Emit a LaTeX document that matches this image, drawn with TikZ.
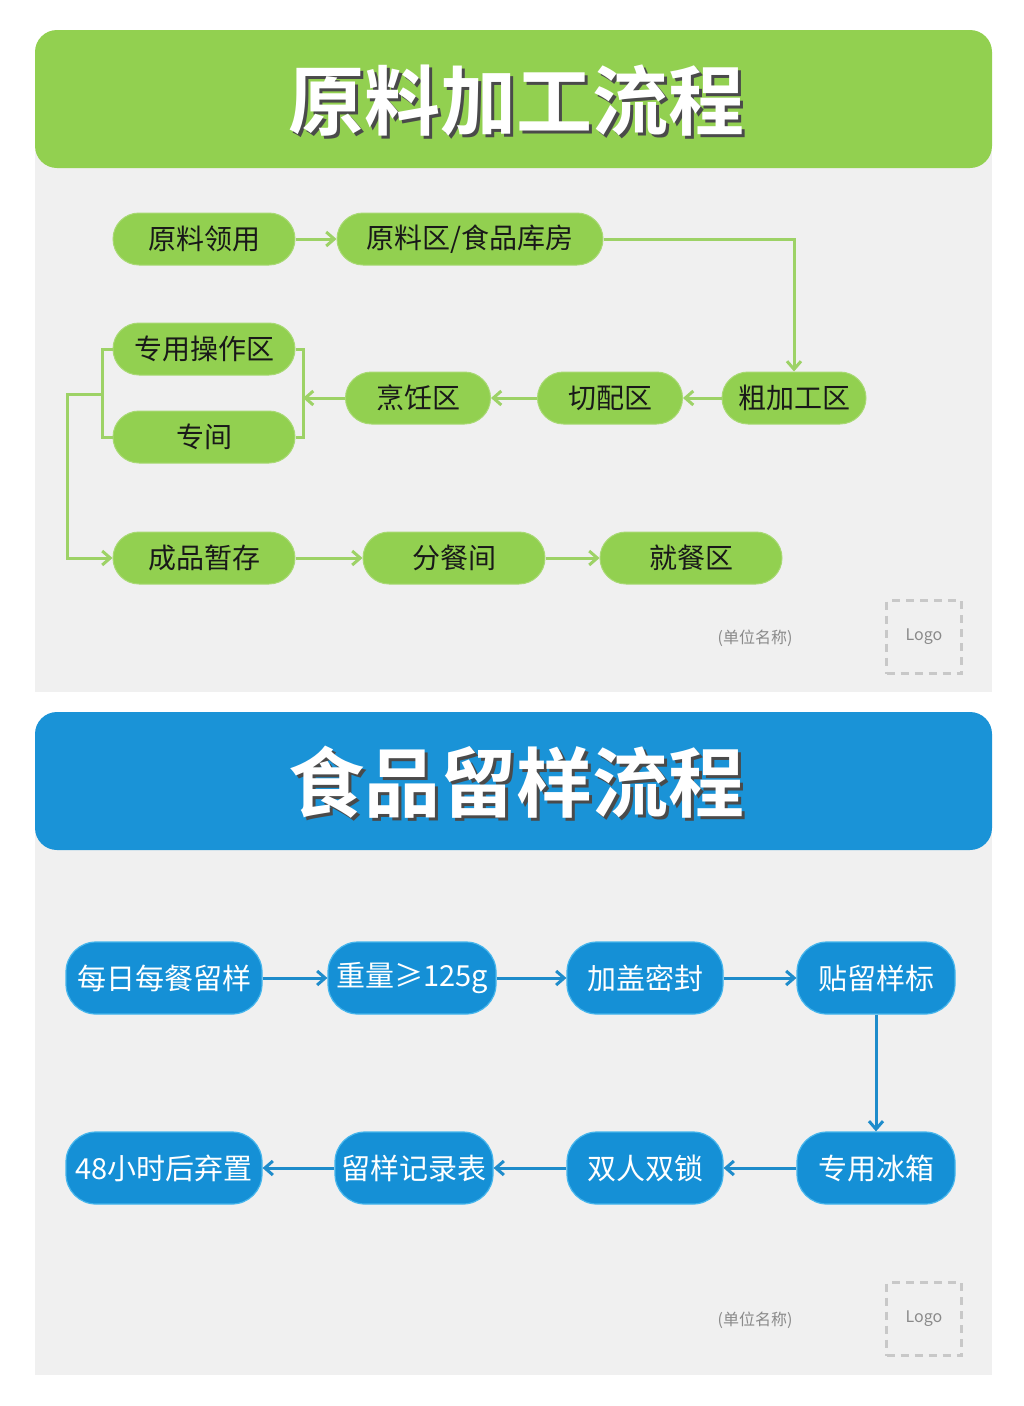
\documentclass[tikz,border=0pt]{standalone}
\usepackage{fontspec}
\setmainfont{Noto Sans CJK SC}
\newfontfamily\cjkb{Noto Sans CJK SC Bold}
\usetikzlibrary{arrows.meta}
\definecolor{panelgray}{HTML}{F0F0F0}
\definecolor{hgreen}{HTML}{92D050}
\definecolor{ngreen}{HTML}{92D050}
\definecolor{lgreen}{HTML}{9DD266}
\definecolor{hblue}{HTML}{1A93D7}
\definecolor{nblue}{HTML}{1590D6}
\definecolor{bblue}{HTML}{45B5EC}
\definecolor{lblue}{HTML}{1E8CCB}
\definecolor{ftgray}{HTML}{8A8A8A}
\definecolor{dashgray}{HTML}{C8C8C8}
\definecolor{tshadow}{HTML}{4A4A4A}
\newcommand{\shadowtitle}[1]{\rlap{\hspace{3pt}\raisebox{-3pt}{\textcolor{tshadow}{#1}}}#1}
\tikzset{
  gnode/.style={fill=ngreen, draw=ngreen!80!white, line width=1pt, rounded corners=26pt, minimum height=52pt, inner sep=0pt, font=\fontsize{28}{30}\selectfont, text=black!90},
  bnode/.style={fill=nblue, draw=bblue, line width=1.2pt, rounded corners=30pt, minimum height=72pt, inner sep=0pt, font=\fontsize{29}{31}\selectfont, text=white},
  gl/.style={draw=lgreen, line width=3pt},
  gla/.style={gl, -{Straight Barb[length=8pt,width=14pt,line width=3pt]}},
  bl/.style={draw=lblue, line width=3pt},
  bla/.style={bl, -{Straight Barb[length=8pt,width=14pt,line width=3pt]}},
  titletxt/.style={font=\cjkb\fontsize{76}{80}\selectfont, text=white},
  foot/.style={font=\fontsize{16}{18}\selectfont, text=ftgray},
  logobox/.style={draw=dashgray, line width=3pt, dash pattern=on 8pt off 6pt, minimum width=75pt, minimum height=73pt, font=\fontsize{16}{18}\selectfont, text=ftgray}
}
\begin{document}
\begin{tikzpicture}[x=1pt,y=-1pt]
\useasboundingbox (0,0) rectangle (1024,1406);
\fill[white] (0,0) rectangle (1024,1406);
% panels
\fill[panelgray] (35,150) rectangle (992,692);
\fill[hgreen, rounded corners=22pt] (35,30) rectangle (992,168);
\fill[panelgray] (35,832) rectangle (992,1375);
\fill[hblue, rounded corners=22pt] (35,712) rectangle (992,850);
% titles
\node[titletxt] (t1) at (516,102) {\shadowtitle{原料加工流程}};
\node[titletxt] (t2) at (516,784) {\shadowtitle{食品留样流程}};
% top flow nodes
\node[gnode, minimum width=182pt] (ly) at (204,239) {原料领用};
\node[gnode, minimum width=266pt] (kf) at (470,239) {原料区/食品库房};
\node[gnode, minimum width=144pt] (cj) at (794,398) {粗加工区};
\node[gnode, minimum width=145pt] (qp) at (610,398) {切配区};
\node[gnode, minimum width=145pt] (pr) at (418,398) {烹饪区};
\node[gnode, minimum width=182pt] (zy) at (204,349) {专用操作区};
\node[gnode, minimum width=182pt] (zj) at (204,437) {专间};
\node[gnode, minimum width=182pt] (cp) at (204,558) {成品暂存};
\node[gnode, minimum width=182pt] (fc) at (454,558) {分餐间};
\node[gnode, minimum width=182pt] (jc) at (691,558) {就餐区};
\coordinate (rb) at (303,398);
\coordinate (lb) at (102,394);
\coordinate (lc) at (67,394);
% top connectors
\draw[gla] (ly.east) -- (kf.west);
\draw[gla] (kf.east) -| (cj.north);
\draw[gla] (cj.west) -- (qp.east);
\draw[gla] (qp.west) -- (pr.east);
\draw[gla] (pr.west) -- (rb);
\draw[gl, line join=miter] (zy.east) -- (zy.east -| rb) -- (zj.east -| rb) -- (zj.east);
\draw[gl, line join=miter] (zy.west) -- (zy.west -| lb) -- (zj.west -| lb) -- (zj.west);
\draw[gla] (lb) -- (lc) |- (cp.west);
\draw[gla] (cp.east) -- (fc.west);
\draw[gla] (fc.east) -- (jc.west);
% footer 1
\node[foot] (u1) at (755,638) {(单位名称)};
\node[logobox] (lg1) at (924,637) {Logo};
% bottom flow nodes
\node[bnode, minimum width=196pt] (mr) at (164,978) {每日每餐留样};
\node[bnode, minimum width=168pt] (zl) at (412,978) {重量≥125g};
\node[bnode, minimum width=156pt] (jg) at (645,978) {加盖密封};
\node[bnode, minimum width=158pt] (tl) at (876,978) {贴留样标};
\node[bnode, minimum width=196pt] (qz) at (164,1168) {48小时后弃置};
\node[bnode, minimum width=158pt] (jl) at (414,1168) {留样记录表};
\node[bnode, minimum width=156pt] (ss) at (645,1168) {双人双锁};
\node[bnode, minimum width=158pt] (bx) at (876,1168) {专用冰箱};
% bottom connectors
\draw[bla] (mr.east) -- (zl.west);
\draw[bla] (zl.east) -- (jg.west);
\draw[bla] (jg.east) -- (tl.west);
\draw[bla] (tl.south) -- (bx.north);
\draw[bla] (bx.west) -- (ss.east);
\draw[bla] (ss.west) -- (jl.east);
\draw[bla] (jl.west) -- (qz.east);
% footer 2
\node[foot] (u2) at (755,1320) {(单位名称)};
\node[logobox] (lg2) at (924,1319) {Logo};
\end{tikzpicture}
\end{document}
